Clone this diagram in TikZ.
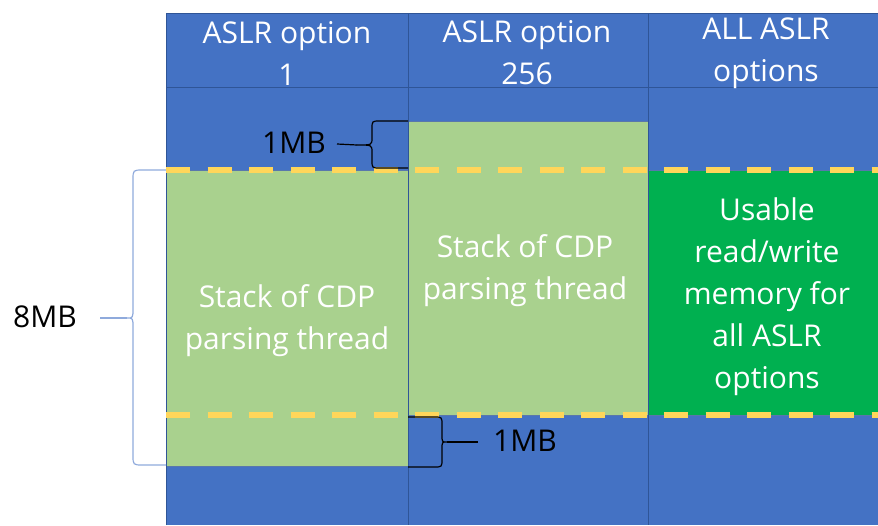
\documentclass[tikz,border=0pt]{standalone}
\usepackage{fontspec}
\setmainfont{Open Sans}
\definecolor{cblue}{RGB}{68,114,196}
\definecolor{cgrid}{RGB}{47,85,151}
\definecolor{lgreen}{RGB}{169,209,142}
\definecolor{dgreen}{RGB}{0,176,80}
\definecolor{cyell}{RGB}{255,214,90}
\definecolor{lbrace}{RGB}{143,170,220}
\begin{document}
\begin{tikzpicture}[x=1pt,y=-1pt,
  txt/.style={font=\fontsize{30}{42}\selectfont, align=center, inner sep=0pt},
  wtxt/.style={txt, text=white},
  gridline/.style={draw=cgrid, line width=0.8pt},
  greenbox/.style={draw=cgrid!80, line width=0.8pt},
  yelldash/.style={draw=cyell, line width=5.5pt, dash pattern=on 24pt off 17.5pt},
  bracestyle/.style={line width=1.2pt, line join=round}
]
\useasboundingbox (0,0) rectangle (878,525);
% background
\fill[cblue] (166,13) rectangle (878,525);
% green areas
\fill[lgreen] (166,170) rectangle (408,466);
\fill[lgreen] (408,121) rectangle (648,415);
\fill[dgreen] (648,170) rectangle (878,415);
\draw[greenbox] (166,170) rectangle (408,466);
\draw[greenbox] (408,121) rectangle (648,415);
\draw[greenbox] (648,170) -- (878,170) (648,415) -- (878,415);
% grid
\draw[gridline] (166,525) -- (166,13) -- (878,13);
\draw[gridline] (408,13) -- (408,525);
\draw[gridline] (648,13) -- (648,525);
\draw[gridline] (166,87) -- (878,87);
% dashed lines
\draw[yelldash] (166,170) -- (878,170);
\draw[yelldash] (166,415) -- (878,415);
% headers
\node[wtxt] (h1) at (287,53) {ASLR option\\1};
\node[wtxt] (h2) at (527,53) {ASLR option\\256};
\node[wtxt] (h3) at (766,53) {ALL ASLR\\options};
% body texts
\node[wtxt] (s1) at (287,321) {Stack of CDP\\parsing thread};
\node[wtxt] (s2) at (525,271) {Stack of CDP\\parsing thread};
\node[wtxt] (u3) at (767,297) {Usable\\read/write\\memory for\\all ASLR\\options};
% brace 1 (1MB, top)
\node[txt, anchor=east] (m1) at (326,143) {1MB};
\coordinate (c1) at (357,145);
\draw[bracestyle] (408,121) -- (380,121) .. controls (372,121) .. (372,129) -- (372,138)
   .. controls (372,145) .. (c1) .. controls (372,145) .. (372,152) -- (372,160)
   .. controls (372,168) .. (380,168) -- (408,168);
\draw[bracestyle] ([xshift=11pt,yshift=-1pt]m1.east) -- (c1);
% brace 2 (1MB, bottom)
\node[txt, anchor=west] (m2) at (493,441) {1MB};
\coordinate (c2) at (447,442);
\draw[bracestyle] (408,417) -- (434,417) .. controls (442,417) .. (442,425) -- (442,435)
   .. controls (442,442) .. (c2) .. controls (442,442) .. (442,449) -- (442,459)
   .. controls (442,467) .. (434,467) -- (408,467);
\draw[bracestyle] (c2) -- ([xshift=-15pt,yshift=-1pt]m2.west);
% brace 3 (8MB)
\node[txt, anchor=east] (m3) at (77,317) {8MB};
\coordinate (c3) at (127,318);
\draw[bracestyle, lbrace] (166,170) -- (143,170) .. controls (133,170) .. (133,180) -- (133,308)
   .. controls (133,318) .. (c3) .. controls (133,318) .. (133,328) -- (133,455)
   .. controls (133,465) .. (143,465) -- (166,465);
\draw[bracestyle, lbrace] ([xshift=23pt,yshift=-1pt]m3.east) -- (c3);
\end{tikzpicture}
\end{document}
